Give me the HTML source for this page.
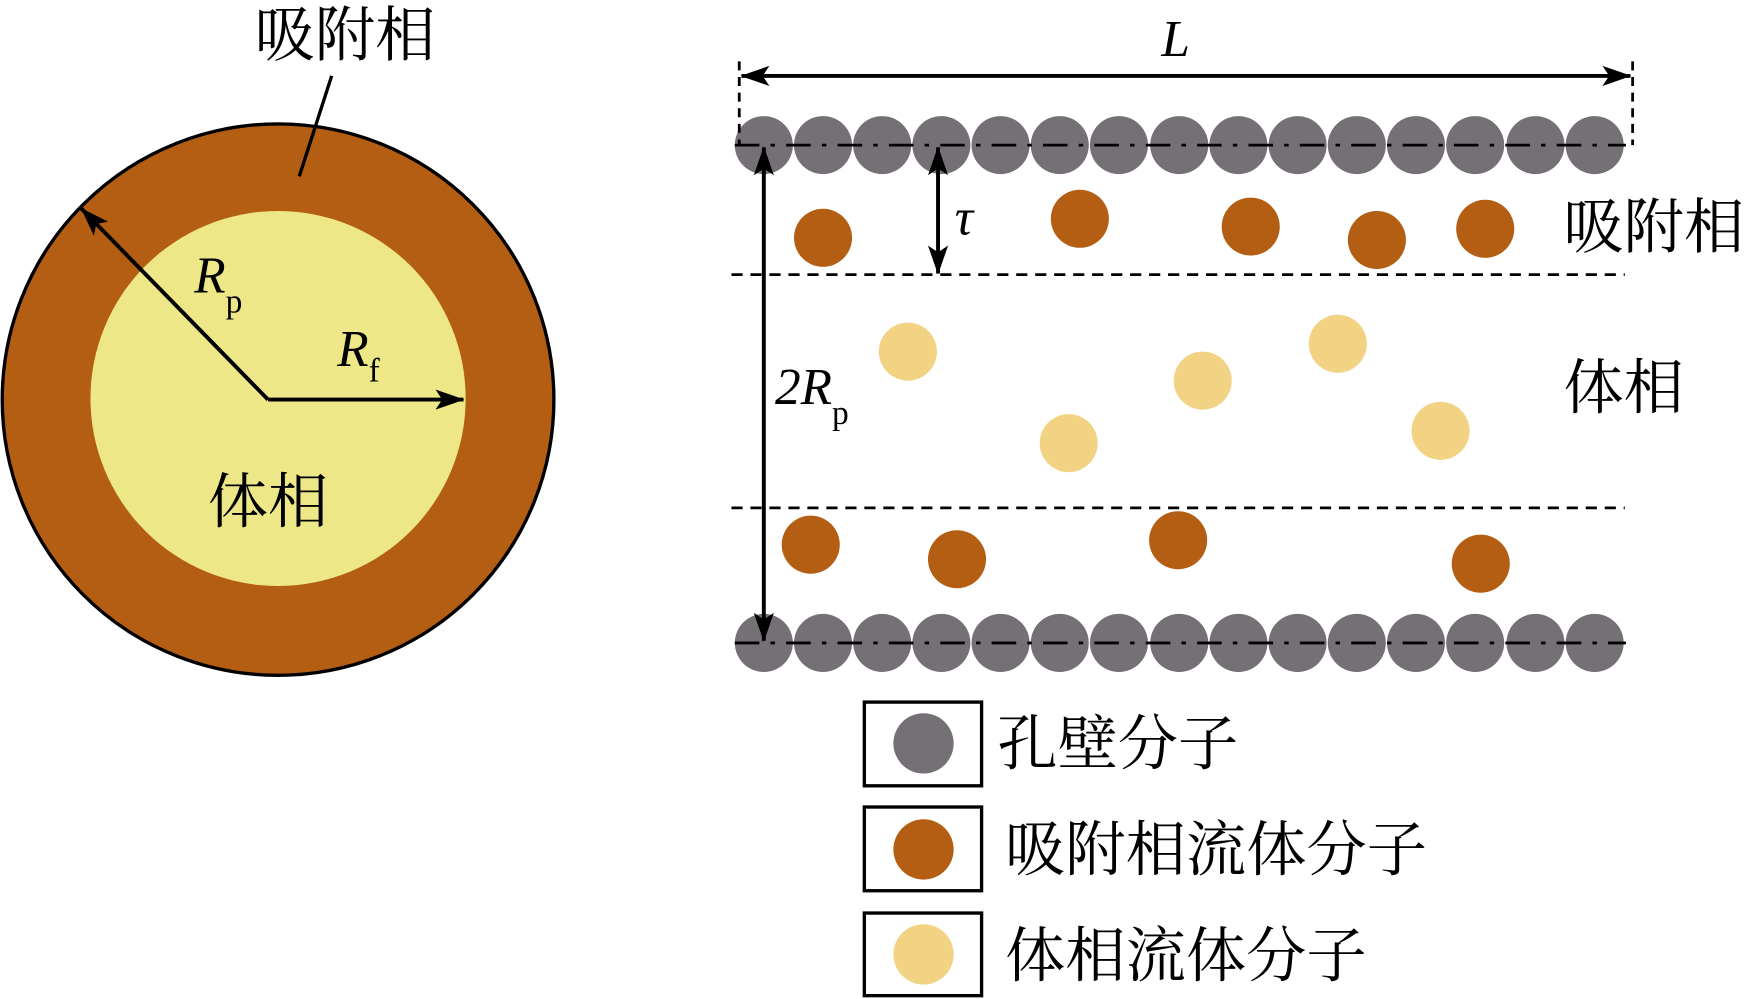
<!DOCTYPE html>
<html><head><meta charset="utf-8"><style>
html,body{margin:0;padding:0;background:#fff;width:1751px;height:999px;overflow:hidden}
svg{display:block}
.cjk{font-family:"Liberation Serif","Noto Serif CJK SC",serif;font-size:54px}
.it{font-family:"Liberation Serif",serif;font-style:italic;font-size:46px}
.sub{font-family:"Liberation Serif",serif;font-style:normal;font-size:30px}
</style></head><body>
<svg width="1751" height="999" viewBox="0 0 1568 895" preserveAspectRatio="none" xmlns="http://www.w3.org/2000/svg">
<defs>
<marker id="ah" viewBox="0 0 26 18" refX="25" refY="9" markerWidth="26" markerHeight="18" markerUnits="userSpaceOnUse" orient="auto-start-reverse">
<path d="M0,0 L26,9 L0,18 L6,9 Z" fill="#000"/></marker>
</defs>
<circle cx="249" cy="358" r="247" fill="#b35e12" stroke="#000" stroke-width="3"/>
<circle cx="249" cy="357" r="168" fill="#ede787"/>
<line x1="297" y1="68" x2="268" y2="158" stroke="#000" stroke-width="3"/>
<text class="cjk" x="228" y="50">吸附相</text>
<line x1="240" y1="358" x2="73" y2="187" stroke="#000" stroke-width="3.5" marker-end="url(#ah)"/>
<line x1="240" y1="358" x2="415" y2="358" stroke="#000" stroke-width="3.5" marker-end="url(#ah)"/>
<text class="it" x="174" y="262">R<tspan class="sub" dy="18">p</tspan></text>
<text class="it" x="302" y="328">R<tspan class="sub" dy="14">f</tspan></text>
<text class="cjk" x="186" y="468">体相</text>
<g fill="#757075">
<circle cx="684" cy="130" r="26"/><circle cx="737" cy="130" r="26"/><circle cx="790" cy="130" r="26"/><circle cx="843" cy="130" r="26"/><circle cx="896" cy="130" r="26"/><circle cx="949" cy="130" r="26"/><circle cx="1002" cy="130" r="26"/><circle cx="1056" cy="130" r="26"/><circle cx="1109" cy="130" r="26"/><circle cx="1162" cy="130" r="26"/><circle cx="1215" cy="130" r="26"/><circle cx="1268" cy="130" r="26"/><circle cx="1321" cy="130" r="26"/><circle cx="1375" cy="130" r="26"/><circle cx="1428" cy="130" r="26"/>
<circle cx="684" cy="576" r="26"/><circle cx="737" cy="576" r="26"/><circle cx="790" cy="576" r="26"/><circle cx="843" cy="576" r="26"/><circle cx="896" cy="576" r="26"/><circle cx="949" cy="576" r="26"/><circle cx="1002" cy="576" r="26"/><circle cx="1056" cy="576" r="26"/><circle cx="1109" cy="576" r="26"/><circle cx="1162" cy="576" r="26"/><circle cx="1215" cy="576" r="26"/><circle cx="1268" cy="576" r="26"/><circle cx="1321" cy="576" r="26"/><circle cx="1375" cy="576" r="26"/><circle cx="1428" cy="576" r="26"/>
</g>
<g stroke="#000" stroke-width="2.5" fill="none">
<line x1="658" y1="130" x2="1456" y2="130" stroke-dasharray="22,10,4,10"/>
<line x1="658" y1="576" x2="1456" y2="576" stroke-dasharray="22,10,4,10"/>
<line x1="655" y1="246" x2="1455" y2="246" stroke-dasharray="10,7"/>
<line x1="655" y1="455" x2="1455" y2="455" stroke-dasharray="10,7"/>
<line x1="662" y1="55" x2="662" y2="130" stroke-dasharray="8,6"/>
<line x1="1462" y1="55" x2="1462" y2="130" stroke-dasharray="8,6"/>
</g>
<g stroke="#000" stroke-width="3.5">
<line x1="664" y1="68" x2="1460" y2="68" marker-start="url(#ah)" marker-end="url(#ah)"/>
<line x1="684" y1="132" x2="684" y2="574" marker-start="url(#ah)" marker-end="url(#ah)"/>
<line x1="840" y1="132" x2="840" y2="245" marker-start="url(#ah)" marker-end="url(#ah)"/>
</g>
<text class="it" x="1040" y="50">L</text>
<text class="it" x="855" y="210">τ</text>
<text class="it" x="694" y="362">2R<tspan class="sub" dy="18">p</tspan></text>
<g fill="#b35e12">
<circle cx="737" cy="213" r="26"/><circle cx="967" cy="196" r="26"/><circle cx="1120" cy="203" r="26"/><circle cx="1233" cy="215" r="26"/><circle cx="1330" cy="205" r="26"/>
<circle cx="726" cy="488" r="26"/><circle cx="857" cy="501" r="26"/><circle cx="1055" cy="484" r="26"/><circle cx="1326" cy="505" r="26"/>
</g>
<g fill="#f2d283">
<circle cx="813" cy="315" r="26"/><circle cx="1198" cy="308" r="26"/><circle cx="1077" cy="341" r="26"/><circle cx="957" cy="397" r="26"/><circle cx="1290" cy="386" r="26"/>
</g>
<text class="cjk" x="1400" y="222">吸附相</text>
<text class="cjk" x="1400" y="366">体相</text>
<g stroke="#000" stroke-width="3" fill="none">
<rect x="774" y="629" width="105" height="75"/>
<rect x="774" y="723" width="105" height="75"/>
<rect x="774" y="818" width="105" height="74"/>
</g>
<circle cx="827" cy="666" r="27" fill="#757075"/>
<circle cx="827" cy="761" r="27" fill="#b35e12"/>
<circle cx="827" cy="855" r="27" fill="#f2d283"/>
<text class="cjk" x="893" y="685">孔壁分子</text>
<text class="cjk" x="900" y="780">吸附相流体分子</text>
<text class="cjk" x="900" y="875">体相流体分子</text>
</svg>
</body></html>
